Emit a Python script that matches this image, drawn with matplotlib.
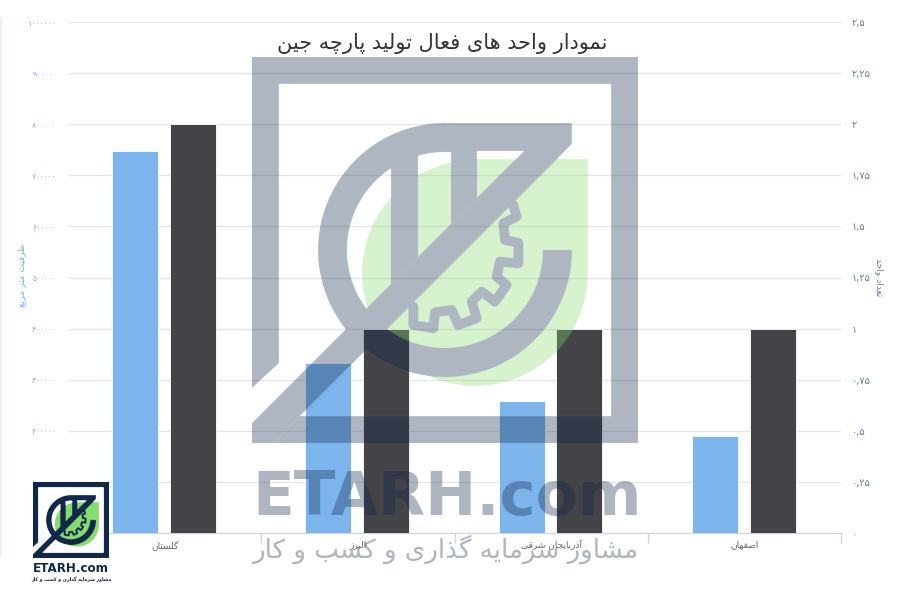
import unicodedata
import numpy as np
import matplotlib
matplotlib.use('Agg')
import matplotlib.pyplot as plt
from matplotlib.backends.backend_agg import FigureCanvasAgg
from matplotlib.figure import Figure
from matplotlib.patches import Circle, Polygon, Rectangle, Wedge

categories = ['گلستان', 'البرز', 'آذربایجان شرقی', 'اصفهان']
capacity = [747000, 332000, 259000, 190000]
units = [2, 1, 1, 1]
capacity_ticks = [0, 100000, 200000, 300000, 400000, 500000, 600000, 700000, 800000, 900000, 1000000]
unit_ticks = [0, 0.25, 0.5, 0.75, 1, 1.25, 1.5, 1.75, 2, 2.25, 2.5]

title = 'نمودار واحد های فعال تولید پارچه جین'
left_title = 'ظرفیت متر مربع'
right_title = 'تعداد واحد'
slogan = 'مشاور سرمایه گذاری و کسب و کار'

BLUE = '#7cb5ec'
DARK = '#434348'
NAVY = '#112849'
LEAF = '#87dc6f'
GRID = '#e6e6e6'
AXIS = '#ccd6eb'
SLATE = '#64809c'


def form(ch, suffix):
	try:
		return unicodedata.lookup(unicodedata.name(ch) + ' ' + suffix + ' FORM')
	except (KeyError, ValueError):
		return None


def fa(text):
	# matplotlib has no shaping, so pick the joined glyphs by hand and reverse
	out = []
	for i, ch in enumerate(text):
		if form(ch, 'ISOLATED') is None:
			out.append(ch)
			continue
		prev = text[i - 1] if i > 0 else ' '
		next_ = text[i + 1] if i < len(text) - 1 else ' '
		join_prev = form(prev, 'INITIAL') is not None
		join_next = form(ch, 'INITIAL') is not None and form(next_, 'ISOLATED') is not None
		if join_prev and join_next:
			out.append(form(ch, 'MEDIAL'))
		elif join_prev:
			out.append(form(ch, 'FINAL'))
		elif join_next:
			out.append(form(ch, 'INITIAL'))
		else:
			out.append(form(ch, 'ISOLATED'))
	return ''.join(out[::-1])


def digits(value):
	s = str(value).replace('.', ',')
	return s.translate(str.maketrans('0123456789', '۰۱۲۳۴۵۶۷۸۹'))


def logo_image():
	# logo drawn solid on its own canvas, so the overlaps don't add up when it gets faded
	f = Figure(figsize=(3.86, 3.86), dpi=200)
	FigureCanvasAgg(f)
	f.patch.set_alpha(0)
	a = f.add_axes([0, 0, 1, 1])
	a.set_xlim(252, 638)
	a.set_ylim(443, 57)
	a.axis('off')
	a.add_patch(Circle((475, 273), 113, color=LEAF, lw=0))
	a.add_patch(Rectangle((475, 159), 113, 114, color=LEAF, lw=0))
	shapes = [
		[(252, 57), (638, 57), (638, 84), (252, 84)],
		[(611, 57), (638, 57), (638, 443), (611, 443)],
		[(252, 57), (279, 57), (279, 363), (252, 388)],
		[(252, 423), (526, 149), (572, 144), (273, 443), (252, 443)],
		[(273, 443), (300, 416), (638, 416), (638, 443)],
		[(451, 123), (572, 123), (572, 144), (526, 151), (451, 151)],
		[(391, 135), (418, 135), (418, 257), (391, 284)],
		[(451, 130), (477, 130), (477, 198), (451, 224)],
	]
	for pts in shapes:
		a.add_patch(Polygon(pts, closed=True, color=NAVY, lw=0))
	a.add_patch(Wedge((445, 250), 127, 0, 280, width=29, color=NAVY, lw=0))
	gear_x = np.array([490, 500, 460, 465, 505, 505, 450, 440, 470, 435, 395, 365, 380, 325, 305, 255, 250, 190, 190]) / 3 + 350
	gear_y = np.array([165, 200, 220, 270, 278, 340, 335, 380, 405, 455, 425, 455, 505, 525, 480, 487, 535, 525, 470]) / 3 + 150
	a.plot(gear_x, gear_y, color=NAVY, lw=7, solid_joinstyle='round', solid_capstyle='round')
	f.canvas.draw()
	return np.asarray(f.canvas.buffer_rgba()).astype(float) / 255


fig = plt.figure(figsize=(9, 6), dpi=100)
ax = fig.add_axes([68 / 900, 1 - 533 / 600, 773 / 900, 511 / 600])
ax2 = ax.twinx()

x = np.arange(len(categories))
ax.bar(x - 0.153, capacity, 0.238, color=BLUE, edgecolor='white', linewidth=0.6, zorder=3)
ax2.bar(x + 0.146, units, 0.238, color=DARK, edgecolor='white', linewidth=0.6, zorder=3)

ax.set_xlim(-0.5, 3.5)
ax.set_ylim(0, 1000000)
ax2.set_ylim(0, 2.5)
ax.grid(axis='y', color=GRID, lw=1)
ax.set_axisbelow(True)

ax.set_yticks(capacity_ticks, [digits(v) for v in capacity_ticks], color=BLUE, fontsize=5.6)
ax2.set_yticks(unit_ticks, [digits(v) for v in unit_ticks], color=SLATE, fontsize=7)
ax.tick_params(axis='y', length=0, pad=8)
ax2.tick_params(axis='y', length=0, pad=8)

ax.set_xticks(np.arange(-0.5, 4, 1))
ax.set_xticklabels([])
ax.set_xticks(x, [fa(c) for c in categories], minor=True, color='#666666', fontsize=6.5)
ax.tick_params(axis='x', which='major', length=7, color=AXIS, width=1)
ax.tick_params(axis='x', which='minor', length=0, pad=5)

for a in (ax, ax2):
	for side in ('top', 'left', 'right'):
		a.spines[side].set_visible(False)
	a.spines['bottom'].set_color(AXIS)

# everything on top of the chart, in pixel coordinates of the 900x600 picture
top = fig.add_axes([0, 0, 1, 1], zorder=10)
top.patch.set_alpha(0)
top.axis('off')

logo = logo_image()
faded = logo.copy()
faded[..., 3] *= 0.34
top.imshow(faded, extent=(252, 638, 443, 57), aspect='auto', zorder=2)
top.add_patch(Rectangle((33, 482), 76, 109, color='white', lw=0, zorder=3))
top.imshow(logo, extent=(33, 109, 558, 482), aspect='auto', zorder=4)
top.add_patch(Rectangle((0, 17), 1.5, 539, color='#e8f5e0', lw=0))
top.set_xlim(0, 900)
top.set_ylim(600, 0)

top.text(442, 44, fa(title), ha='center', va='center', fontsize=15, color='#333333', zorder=5)
top.text(22, 275, fa(left_title), rotation=90, ha='center', va='center', fontsize=6.5, color=BLUE)
top.text(879, 277, fa(right_title), rotation=270, ha='center', va='center', fontsize=6.5, color=SLATE)
top.text(447, 498, 'ETARH.com', ha='center', va='center', fontsize=44, fontweight='bold', color=NAVY, alpha=0.34, zorder=5)
top.text(445, 549, fa(slogan), ha='center', va='center', fontsize=18.8, color=NAVY, alpha=0.34, zorder=5)
top.text(71, 569, 'ETARH.com', ha='center', va='center', fontsize=8.6, fontweight='bold', color=NAVY, zorder=5)
top.text(71, 580, fa(slogan), ha='center', va='center', fontsize=3.3, fontweight='bold', color=NAVY, zorder=5)

plt.savefig('out.png', dpi=100)
